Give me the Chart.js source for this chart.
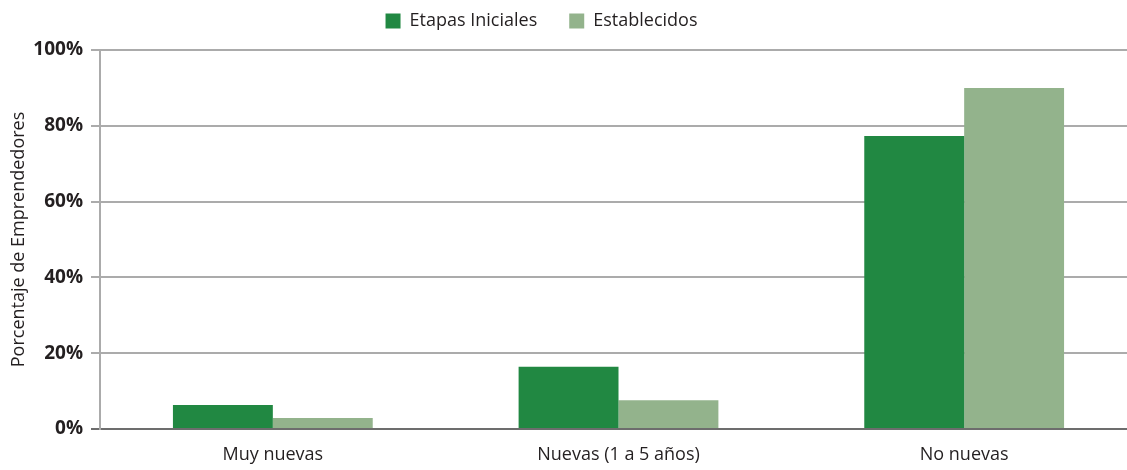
<!DOCTYPE html>
<html>
<head>
<meta charset="utf-8">
<script src="https://cdn.jsdelivr.net/npm/chart.js@4.4.0/dist/chart.umd.min.js"></script>
<style>
  html, body { margin: 0; padding: 0; background: #fff; overflow: hidden; }
  #wrap { position: absolute; left: 0; top: 0; width: 1140px; height: 470px; }
</style>
</head>
<body>
<div id="wrap"><canvas id="chart"></canvas></div>
<script>
// categories and values
var categories = ["Muy nuevas", "Nuevas (1 a 5 años)", "No nuevas"];
var etapasIniciales = [6.3, 16.4, 77.3];
var establecidos = [2.9, 7.6, 90.0];
var yTicks = [0, 20, 40, 60, 80, 100];

var textColor = "#231f20";

// legend: wide gap between items, but kept near the top; shifted a bit left
var legendTweak = {
    id: "legendTweak",
    beforeInit: function(chart) {
        var fit = chart.legend.fit;
        chart.legend.fit = function() {
            fit.call(this);
            this.height -= 10;
        };
    },
    afterLayout: function(chart) {
        var lg = chart.legend;
        lg.left -= 27;
        lg.right -= 27;
        lg.top -= 20;
        lg.bottom = chart.chartArea.top;
        lg.legendHitBoxes.forEach(function(b) { b.left -= 27; b.top -= 20; });
    }
};

var ctx = document.getElementById("chart").getContext("2d");
var chart = new Chart(ctx, {
    type: "bar",
    data: {
        labels: categories,
        datasets: [{
            label: "Etapas Iniciales",
            data: etapasIniciales,
            backgroundColor: "#218842"
        }, {
            label: "Establecidos",
            data: establecidos,
            backgroundColor: "#93b38c"
        }]
    },
    options: {
        responsive: true,
        maintainAspectRatio: false,
        animation: false,
        categoryPercentage: 0.578,
        barPercentage: 1.0,
        layout: { padding: { left: 0, right: 3, top: 0, bottom: 0 } },
        plugins: {
            legend: {
                position: "top",
                labels: {
                    color: textColor,
                    font: { family: "Open Sans", size: 18 },
                    boxWidth: 15,
                    boxHeight: 15,
                    padding: 32
                }
            },
            tooltip: { enabled: false }
        },
        scales: {
            x: {
                grid: { display: false },
                border: { color: "#6d6d6d", width: 2 },
                ticks: {
                    color: textColor,
                    font: { family: "Open Sans", size: 18 },
                    padding: 7
                },
                afterFit: function(s) { s.height = 41; }
            },
            y: {
                min: 0,
                max: 100,
                afterBuildTicks: function(s) {
                    s.ticks = yTicks.map(function(v) { return { value: v }; });
                },
                grid: {
                    color: function(c) { return c.tick && c.tick.value === 0 ? "#6d6d6d" : "#ababab"; },
                    lineWidth: 2,
                    tickLength: 9
                },
                border: { color: "#ababab", width: 2 },
                ticks: {
                    color: textColor,
                    font: { family: "Open Sans", size: 19, weight: "bold" },
                    padding: 8,
                    callback: function(v) { return v + "%"; }
                },
                title: {
                    display: true,
                    text: "Porcentaje de Emprendedores",
                    color: textColor,
                    font: { family: "Open Sans", size: 18 },
                    padding: { top: 8, bottom: 0 }
                },
                afterFit: function(s) { s.width = 100; }
            }
        }
    },
    plugins: [legendTweak]
});
</script>
</body>
</html>
